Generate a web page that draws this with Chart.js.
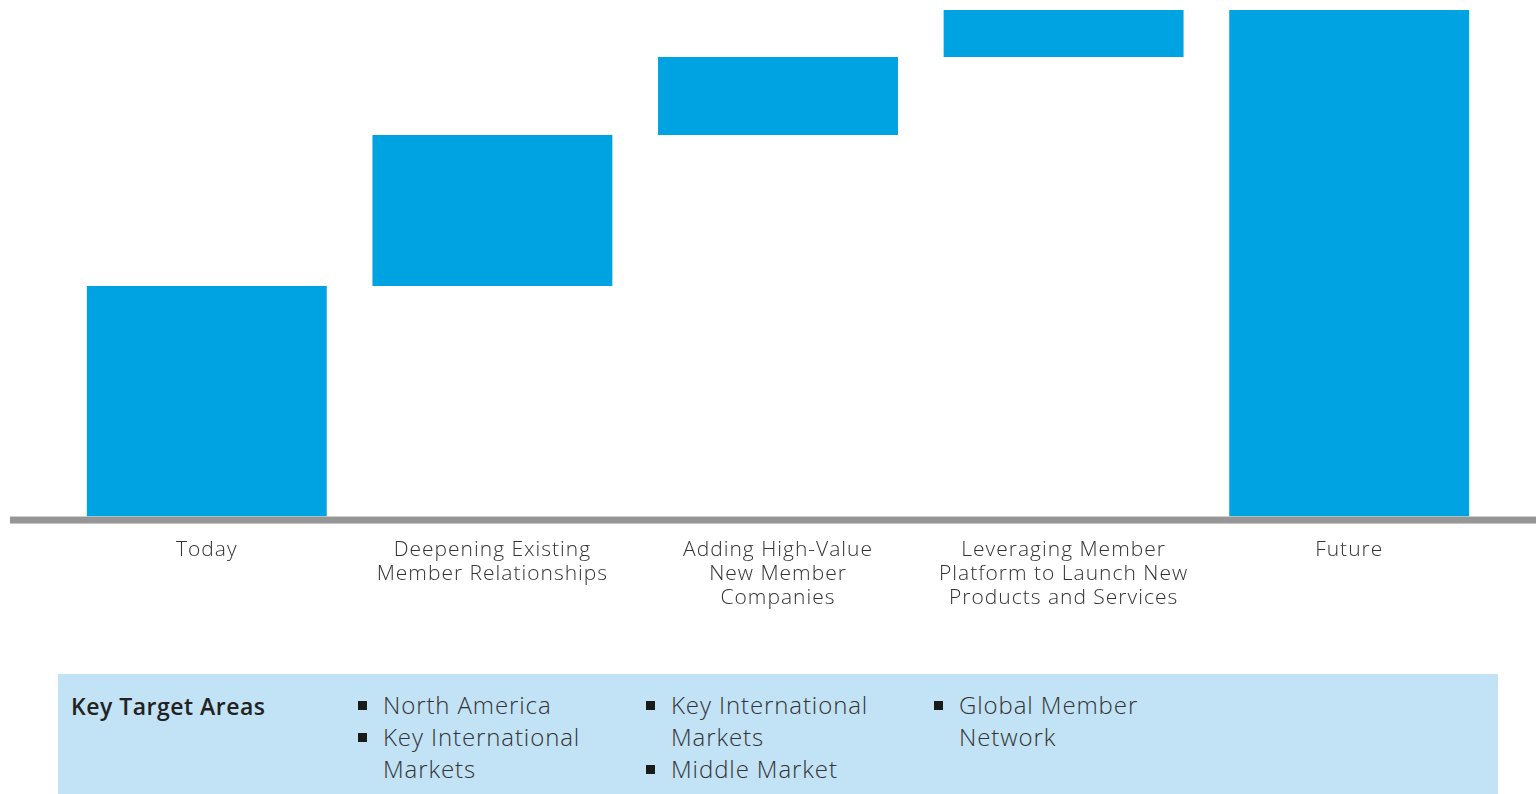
<!DOCTYPE html>
<html>
<head>
<meta charset="utf-8">
<script src="https://cdn.jsdelivr.net/npm/chart.js@4.4.1/dist/chart.umd.min.js"></script>
<style>
  body { margin: 0; background: #fff; font-family: "Open Sans", sans-serif; }
  .chart-wrap { position: absolute; left: 0; top: 0; width: 1536px; height: 640px; }
  .panel { position: absolute; left: 58px; top: 674px; width: 1440px; height: 120px; background: #c2e2f5; }
  .panel .title { position: absolute; left: 13px; top: 16px; font-size: 23px; font-weight: 600; color: #222; letter-spacing: 0.5px; }
  .panel ul { position: absolute; top: 15px; margin: 0; padding: 0; list-style: none; font-size: 24px; font-weight: 300; color: #333; line-height: 32px; letter-spacing: 0.9px; }
  .panel li { position: relative; padding-left: 25px; }
  .panel li::before { content: ""; position: absolute; left: 0; top: 12px; width: 9px; height: 9px; background: #1a1a1a; }
</style>
</head>
<body>
<div class="chart-wrap"><canvas id="chart"></canvas></div>
<div class="panel">
  <div class="title">Key Target Areas</div>
  <ul id="col0" style="left:300px"></ul>
  <ul id="col1" style="left:588px"></ul>
  <ul id="col2" style="left:876px"></ul>
</div>
<script>
const categories = [
  'Today',
  ['Deepening Existing', 'Member Relationships'],
  ['Adding High-Value', 'New Member', 'Companies'],
  ['Leveraging Member', 'Platform to Launch New', 'Products and Services'],
  'Future'
];
const barStarts = [0, 45.5, 75.3, 90.7, 0];
const barEnds = [45.5, 75.3, 90.7, 100, 100];

const targetAreas = [
  ['North America', 'Key International<br>Markets'],
  ['Key International<br>Markets', 'Middle Market'],
  ['Global Member<br>Network']
];

targetAreas.forEach((items, i) => {
  document.getElementById('col' + i).innerHTML = items.map(t => '<li>' + t + '</li>').join('');
});

// thick grey baseline running across the whole width
const baseline = {
  id: 'baseline',
  beforeDraw(chart) {
    chart.ctx.letterSpacing = '1px';
  },
  afterDatasetsDraw(chart) {
    const ctx = chart.ctx;
    const y = chart.scales.y.getPixelForValue(0);
    ctx.save();
    ctx.fillStyle = '#969696';
    ctx.fillRect(10, y, chart.width - 10, 7);
    ctx.restore();
  }
};

new Chart(document.getElementById('chart'), {
  type: 'bar',
  data: {
    labels: categories,
    datasets: [{
      data: barStarts.map((s, i) => [s, barEnds[i]]),
      backgroundColor: '#00a3e2',
      borderWidth: 0,
      barPercentage: 0.84,
      categoryPercentage: 1
    }]
  },
  options: {
    responsive: true,
    maintainAspectRatio: false,
    animation: false,
    layout: { padding: { left: 64, right: 44, top: 10, bottom: 9 } },
    plugins: { legend: { display: false }, tooltip: { enabled: false } },
    scales: {
      x: {
        grid: { display: false, drawTicks: false },
        border: { display: false },
        ticks: {
          padding: 21,
          maxRotation: 0,
          autoSkip: false,
          color: '#333',
          font: { family: 'Open Sans', size: 21, weight: 300, lineHeight: 1.15 }
        }
      },
      y: {
        display: false,
        min: 0,
        max: 100
      }
    }
  },
  plugins: [baseline]
});
</script>
</body>
</html>
